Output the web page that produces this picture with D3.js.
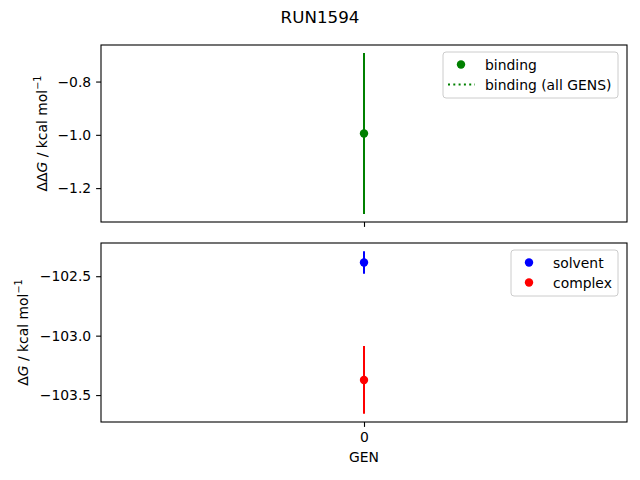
<!DOCTYPE html>
<html>
<head>
<meta charset="utf-8">
<script src="https://cdn.jsdelivr.net/npm/d3@7"></script>
<style>
  body { margin: 0; background: #fff; }
  svg { font-family: "DejaVu Sans", sans-serif; }
</style>
</head>
<body>
<div id="chart"></div>
<script>
// data
const title = 'RUN1594';
const gens = [0];
const bindingVals = [-0.995];
const bindingErr = [0.302];
const solventVals = [-102.384];
const solventErr = [0.095];
const complexVals = [-103.373];
const complexErr = [0.285];
const topTicks = [-1.2, -1.0, -0.8];
const bottomTicks = [-103.5, -103.0, -102.5];
const xTicks = [0];

const W = 640, H = 480;
const left = 101, right = 627;
const topPanel = { y0: 45, y1: 222 };
const botPanel = { y0: 243, y1: 422 };

const svg = d3.select('#chart').append('svg')
  .attr('width', W).attr('height', H);

svg.append('text')
  .attr('x', 320).attr('y', 23)
  .attr('text-anchor', 'middle')
  .attr('font-size', 16.7)
  .text(title);

const x = d3.scaleLinear().domain([-1, 1]).range([left, right]);

// matplotlib style 5% padding around data extent
function paddedDomain(series) {
  let lo = Infinity, hi = -Infinity;
  series.forEach(([vals, errs]) => vals.forEach((v, i) => {
    lo = Math.min(lo, v - errs[i]);
    hi = Math.max(hi, v + errs[i]);
  }));
  const m = (hi - lo) * 0.05;
  return [lo - m, hi + m];
}

function drawPanel(panel, series, ticks, fmt, labelParts, labelX, showX) {
  const y = d3.scaleLinear()
    .domain(paddedDomain(series.map(s => [s.vals, s.errs])))
    .range([panel.y1, panel.y0]);
  const g = svg.append('g');

  // error bars + points
  series.forEach(s => {
    gens.forEach((gx, i) => {
      g.append('line')
        .attr('x1', x(gx)).attr('x2', x(gx))
        .attr('y1', y(s.vals[i] - s.errs[i]))
        .attr('y2', y(s.vals[i] + s.errs[i]))
        .attr('stroke', s.color).attr('stroke-width', 2);
      g.append('circle')
        .attr('cx', x(gx)).attr('cy', y(s.vals[i]))
        .attr('r', 4.2).attr('fill', s.color);
    });
  });

  // frame
  g.append('rect')
    .attr('x', left).attr('y', panel.y0)
    .attr('width', right - left).attr('height', panel.y1 - panel.y0)
    .attr('fill', 'none').attr('stroke', '#000').attr('stroke-width', 1.1);

  // y axis
  const yAxis = d3.axisLeft(y).tickValues(ticks).tickFormat(fmt)
    .tickSizeInner(4.9).tickSizeOuter(0).tickPadding(4.9);
  const ya = g.append('g').attr('transform', `translate(${left},0)`).call(yAxis);
  ya.select('.domain').remove();
  ya.selectAll('text').attr('font-size', 13.9)
    .attr('font-family', '"DejaVu Sans", sans-serif').attr('fill', '#000');
  ya.selectAll('line').attr('stroke-width', 1.1);

  // x axis ticks
  const xAxis = d3.axisBottom(x).tickValues(xTicks)
    .tickSizeInner(4.9).tickSizeOuter(0).tickPadding(4.9)
    .tickFormat(showX ? d3.format('d') : '');
  const xa = g.append('g').attr('transform', `translate(0,${panel.y1})`).call(xAxis);
  xa.select('.domain').remove();
  xa.selectAll('text').attr('font-size', 13.9)
    .attr('font-family', '"DejaVu Sans", sans-serif').attr('fill', '#000');
  xa.selectAll('line').attr('stroke-width', 1.1);

  // y label
  const cy = (panel.y0 + panel.y1) / 2;
  const lab = g.append('text')
    .attr('transform', `translate(${labelX},${cy}) rotate(-90)`)
    .attr('text-anchor', 'middle')
    .attr('font-size', 13.9);
  labelParts.forEach(p => {
    const t = lab.append('tspan').text(p.t);
    if (p.italic) t.attr('font-style', 'italic');
    if (p.sup) t.attr('font-size', 9.7).attr('dy', -6);
  });
  return y;
}

drawPanel(topPanel,
  [{ vals: bindingVals, errs: bindingErr, color: 'green' }],
  topTicks, d3.format('.1f'),
  [{ t: 'ΔΔ' }, { t: 'G', italic: true }, { t: ' / kcal mol' }, { t: '−1', sup: true }],
  47, false);

drawPanel(botPanel,
  [{ vals: solventVals, errs: solventErr, color: 'blue' },
   { vals: complexVals, errs: complexErr, color: 'red' }],
  bottomTicks, d3.format('.1f'),
  [{ t: 'Δ' }, { t: 'G', italic: true }, { t: ' / kcal mol' }, { t: '−1', sup: true }],
  28, true);

svg.append('text')
  .attr('x', x(0)).attr('y', 462)
  .attr('text-anchor', 'middle')
  .attr('font-size', 13.9)
  .text('GEN');

// legends
function legend(x0, y0, w, items) {
  const g = svg.append('g');
  g.append('rect')
    .attr('x', x0).attr('y', y0).attr('width', w).attr('height', 46)
    .attr('rx', 3).attr('fill', '#fff').attr('fill-opacity', 0.8)
    .attr('stroke', '#ccc').attr('stroke-width', 1);
  items.forEach((it, i) => {
    const cy = y0 + 12.5 + i * 20;
    if (it.kind === 'dot') {
      g.append('circle').attr('cx', x0 + 18).attr('cy', cy).attr('r', 4.2).attr('fill', it.color);
    } else {
      g.append('line').attr('x1', x0 + 5).attr('x2', x0 + 32)
        .attr('y1', cy).attr('y2', cy)
        .attr('stroke', it.color).attr('stroke-width', 2)
        .attr('stroke-dasharray', '2,3.3');
    }
    g.append('text').attr('x', x0 + 42).attr('y', cy + 5)
      .attr('font-size', 13.9).text(it.label);
  });
}

legend(443, 52, 175, [
  { kind: 'dot', color: 'green', label: 'binding' },
  { kind: 'line', color: 'green', label: 'binding (all GENS)' }
]);
legend(511, 250, 107, [
  { kind: 'dot', color: 'blue', label: 'solvent' },
  { kind: 'dot', color: 'red', label: 'complex' }
]);
</script>
</body>
</html>
